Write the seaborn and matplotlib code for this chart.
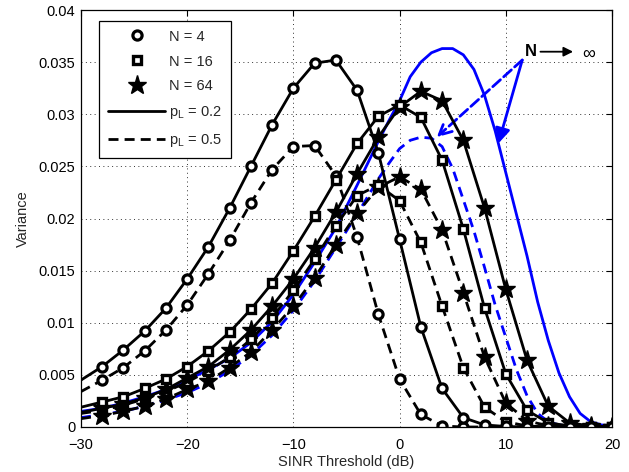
import numpy as np
import pandas as pd
import matplotlib
matplotlib.use("Agg")
import matplotlib.pyplot as plt
from matplotlib.lines import Line2D
from matplotlib.ticker import FormatStrFormatter
from matplotlib.patches import FancyArrowPatch
import seaborn as sns

# ---------------- data ----------------
snr = [-30, -28, -26, -24, -22, -20, -18, -16, -14, -12, -10, -8, -6,
       -4, -2, 0, 2, 4, 6, 8, 10, 12, 14, 16, 18, 20]

n4_p02 = [0.0045, 0.0058, 0.0074, 0.0092, 0.0114, 0.0142, 0.0173, 0.0210, 0.0250,
          0.0290, 0.0325, 0.0349, 0.0352, 0.0323, 0.0263, 0.0180, 0.0096, 0.0037,
          0.0009, 0.0002, 0.00005, 0.0, 0.0, 0.0, 0.0, 0.0]
n4_p05 = [0.0034, 0.0045, 0.0057, 0.0073, 0.0093, 0.0117, 0.0147, 0.0179, 0.0215,
          0.0247, 0.0269, 0.0270, 0.0241, 0.0182, 0.0108, 0.0046, 0.0012, 0.0001,
          0.0, 0.0, 0.0, 0.0, 0.0, 0.0, 0.0, 0.0]
n16_p02 = [0.0019, 0.0024, 0.0029, 0.0037, 0.0046, 0.0058, 0.0073, 0.0091, 0.0113,
           0.0138, 0.0169, 0.0202, 0.0237, 0.0272, 0.0298, 0.0309, 0.0297, 0.0256,
           0.0190, 0.0114, 0.0051, 0.0016, 0.0004, 0.0001, 0.0, 0.0]
n16_p05 = [0.0013, 0.0016, 0.0021, 0.0027, 0.0034, 0.0043, 0.0054, 0.0067, 0.0084,
           0.0105, 0.0131, 0.0161, 0.0193, 0.0222, 0.0232, 0.0217, 0.0177, 0.0116,
           0.0057, 0.0019, 0.0005, 0.0001, 0.0, 0.0, 0.0, 0.0]
n64_p02 = [0.0014, 0.0018, 0.0022, 0.0028, 0.0036, 0.0047, 0.0058, 0.0074, 0.0093,
           0.0116, 0.0142, 0.0172, 0.0206, 0.0243, 0.0278, 0.0307, 0.0322, 0.0313,
           0.0275, 0.0210, 0.0132, 0.0064, 0.0020, 0.0004, 0.0001, 0.0]
n64_p05 = [0.0008, 0.0011, 0.0015, 0.0020, 0.0027, 0.0036, 0.0044, 0.0057, 0.0072,
           0.0093, 0.0116, 0.0143, 0.0175, 0.0205, 0.0230, 0.0240, 0.0228, 0.0189,
           0.0129, 0.0067, 0.0023, 0.0006, 0.0001, 0.0, 0.0, 0.0]

snr_inf = [-30, -28, -26, -24, -22, -20, -18, -16, -14, -12, -10, -8, -6, -4, -2,
           -1, 0, 1, 2, 3, 4, 5, 6, 7, 8, 9, 10, 11, 12, 13, 14, 15, 16, 17, 18, 19, 20]
inf_p02 = [0.0015, 0.0018, 0.0023, 0.0029, 0.0036, 0.0045, 0.0055, 0.0066, 0.0081,
           0.0101, 0.0127, 0.0158, 0.0191, 0.0232, 0.0274, 0.0294, 0.0313, 0.0336,
           0.0350, 0.0359, 0.0363, 0.0363, 0.0357, 0.0343, 0.0318, 0.0284, 0.0244,
           0.0204, 0.0164, 0.0120, 0.0083, 0.0052, 0.0029, 0.0013, 0.0005, 0.0002, 0.0001]
inf_p05 = [0.0009, 0.0012, 0.0015, 0.0020, 0.0026, 0.0033, 0.0042, 0.0054, 0.0069,
           0.0088, 0.0112, 0.0140, 0.0172, 0.0204, 0.0238, 0.0253, 0.0267, 0.0275,
           0.0278, 0.0277, 0.0269, 0.0248, 0.0218, 0.0188, 0.0153, 0.0117, 0.0086,
           0.0055, 0.0030, 0.0013, 0.0005, 0.0002, 0.0001, 0.0, 0.0, 0.0, 0.0]

legend_labels = ["N = 4", "N = 16", "N = 64",
                 r"$\mathregular{p_{L}}$ = 0.2", r"$\mathregular{p_{L}}$ = 0.5"]

# ---------------- style ----------------
sns.set_theme(style="white")
plt.rcParams["font.family"] = ["Liberation Sans", "DejaVu Sans"]
plt.rcParams["mathtext.fontset"] = "custom"
plt.rcParams["mathtext.rm"] = "Liberation Sans"
plt.rcParams["axes.unicode_minus"] = True

fig = plt.figure(figsize=(6.29, 4.72), dpi=100)
ax = fig.add_axes([81 / 629, 45 / 472, 531 / 629, 417 / 472])

LW = 2.0
DASH = (0, (3.6, 2.2))
MARK = {"o": (6.6, 2.3), "s": (5.2, 2.4), "*": (14, 1.0)}

def draw(x, y, ls, marker, face, color="black"):
    df = pd.DataFrame({"x": x, "y": y})
    kw = dict(linewidth=LW, color=color, linestyle=ls, legend=False)
    if marker is not None:
        ms, mew = MARK[marker]
        kw.update(marker=marker, markersize=ms, markeredgecolor="black",
                  markerfacecolor=face, markeredgewidth=mew,
                  markevery=slice(1, None))
    sns.lineplot(data=df, x="x", y="y", ax=ax, sort=True, estimator=None, **kw)

# blue N -> infinity curves
draw(snr_inf, inf_p02, "-", None, "none", color="#0000ff")
draw(snr_inf, inf_p05, DASH, None, "none", color="#0000ff")

# black curves
draw(snr, n64_p05, DASH, "*", "black")
draw(snr, n16_p05, DASH, "s", "white")
draw(snr, n4_p05, DASH, "o", "white")
draw(snr, n64_p02, "-", "*", "black")
draw(snr, n16_p02, "-", "s", "white")
draw(snr, n4_p02, "-", "o", "white")

# ---------------- axes ----------------
ax.set_xlim(-30, 20)
ax.set_ylim(0, 0.04)
ax.set_xticks([-30, -20, -10, 0, 10, 20])
ax.set_yticks(np.arange(0, 0.0401, 0.005))
ax.yaxis.set_major_formatter(FormatStrFormatter("%g"))
ax.tick_params(direction="in", length=4, width=0.8, labelsize=10.5,
               top=True, right=True, colors="black")
ax.tick_params(axis="x", pad=8)
ax.tick_params(axis="y", pad=4)
for s in ax.spines.values():
    s.set_color("black")
    s.set_linewidth(0.9)
ax.grid(True, linestyle=(0, (1, 3.5)), color="#333333", linewidth=0.7)
ax.set_axisbelow(True)
ax.set_xlabel("SINR Threshold (dB)", fontsize=10.5, labelpad=2)
ax.set_ylabel("Variance", fontsize=10.5, labelpad=6)

# ---------------- legend ----------------
handles = [
    Line2D([], [], linestyle="none", marker="o", markersize=6.6, color="black",
           markerfacecolor="white", markeredgewidth=2.3),
    Line2D([], [], linestyle="none", marker="s", markersize=5.2, color="black",
           markerfacecolor="white", markeredgewidth=2.4),
    Line2D([], [], linestyle="none", marker="*", markersize=14, color="black"),
    Line2D([], [], linestyle="-", linewidth=LW, color="black"),
    Line2D([], [], linestyle=DASH, linewidth=LW, color="black"),
]
leg = ax.legend(handles, legend_labels, loc="upper left",
                bbox_to_anchor=(0.0345, 0.974), borderaxespad=0,
                fontsize=10.5, frameon=True, fancybox=False, framealpha=1,
                edgecolor="black", handlelength=3.9, handletextpad=0.3,
                labelspacing=0.75, borderpad=0.6)
leg.get_frame().set_linewidth(0.9)

# ---------------- annotation ----------------
ax.text(12.4, 0.0360, "N", fontsize=12, fontweight="bold", ha="center",
        va="center", color="black")
ax.add_patch(FancyArrowPatch((13.0, 0.0360), (16.6, 0.0360),
                             arrowstyle="-|>", mutation_scale=14,
                             color="black", linewidth=1.3))
ax.text(17.8, 0.03595, "∞", fontsize=13, ha="center", va="center_baseline",
        color="black")
ax.add_patch(FancyArrowPatch((11.55, 0.0352), (9.3, 0.0272),
                             arrowstyle="-|>", mutation_scale=22,
                             color="#0000ff", linewidth=2.0,
                             shrinkA=0, shrinkB=0))
ax.add_patch(FancyArrowPatch((11.55, 0.0352), (3.5, 0.0278),
                             arrowstyle="->", mutation_scale=22,
                             color="#0000ff", linewidth=2.0, linestyle="--",
                             shrinkA=0, shrinkB=0))

fig.savefig("out.png", dpi=100)
